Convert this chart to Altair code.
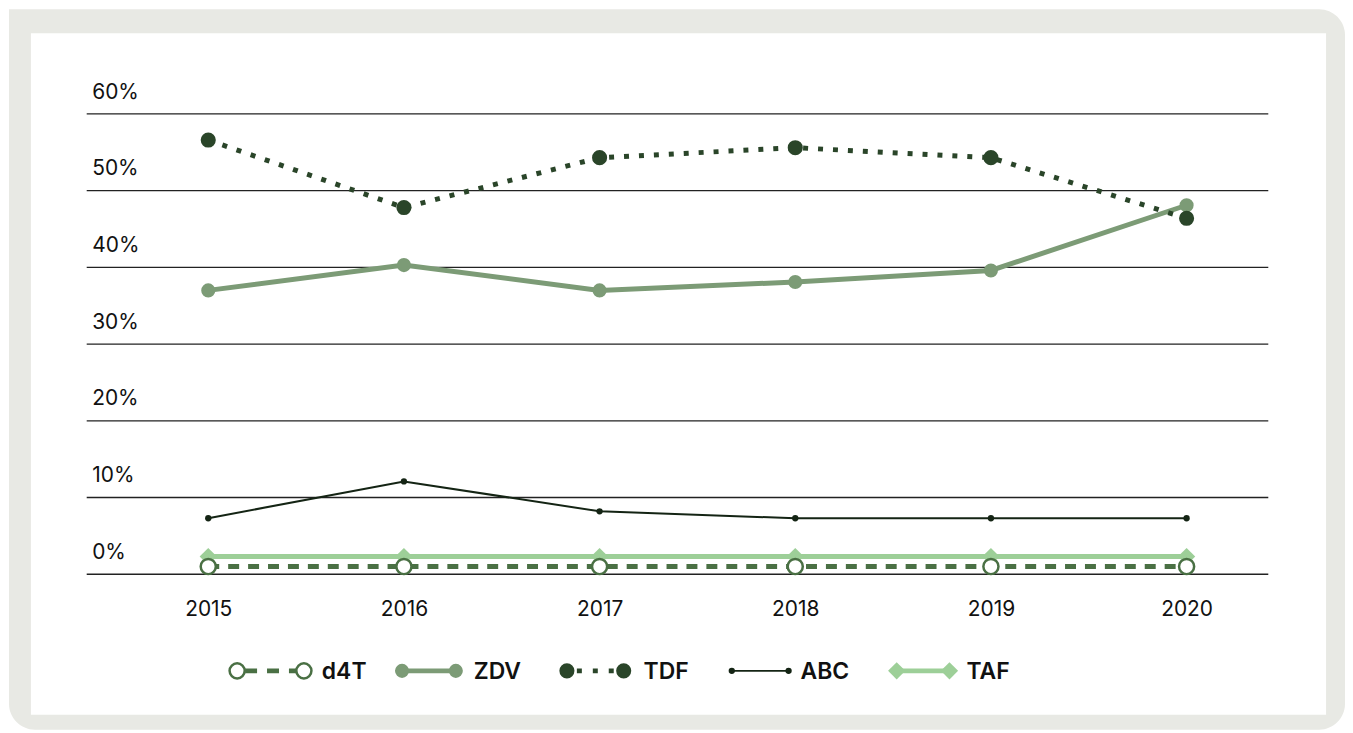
import altair as alt
import pandas as pd

years = ["2015", "2016", "2017", "2018", "2019", "2020"]
series_names = ["d4T", "ZDV", "TDF", "ABC", "TAF"]
d4t = [1.0, 1.0, 1.0, 1.0, 1.0, 1.0]
zdv = [37.0, 40.3, 37.0, 38.1, 39.6, 48.1]
tdf = [56.6, 47.8, 54.3, 55.6, 54.3, 46.4]
abc = [7.3, 12.1, 8.2, 7.3, 7.3, 7.3]
taf = [2.3, 2.3, 2.3, 2.3, 2.3, 2.3]
y_ticks = [0, 10, 20, 30, 40, 50, 60]

values = {"d4T": d4t, "ZDV": zdv, "TDF": tdf, "ABC": abc, "TAF": taf}
rows = []
for s in series_names:
    for yr, v in zip(years, values[s]):
        rows.append({"series": s, "year": yr, "value": v})
df = pd.DataFrame(rows)
legend_df = pd.DataFrame({"series": series_names})
ticks_df = pd.DataFrame({"value": y_ticks})

FONT = "Inter"
W, H = 1186, 462

style = {
    "TAF": dict(color="#9dcf98", width=5, dash=None, shape="diamond", size=300, fill="#9dcf98",
                seg=53, txt=70),
    "d4T": dict(color="#4a7044", width=5, dash=[11, 9], shape="circle", size=230, fill="white",
                seg=67, txt=85),
    "ABC": dict(color="#142414", width=2, dash=None, shape="circle", size=40, fill="#142414",
                seg=57, txt=69),
    "ZDV": dict(color="#7c9b76", width=5, dash=None, shape="circle", size=200, fill="#7c9b76",
                seg=54, txt=72),
    "TDF": dict(color="#2a4529", width=5, dash=[5, 10], shape="circle", size=230, fill="#2a4529",
                seg=57, txt=77),
}
draw_order = ["TAF", "d4T", "ABC", "ZDV", "TDF"]

x_main = alt.X("year:O",
               scale=alt.Scale(type="point", domain=years, range=[122, 1104], padding=0),
               axis=alt.Axis(title=None, domain=False, ticks=False, grid=False,
                             labelAngle=0, labelFont=FONT, labelFontSize=21,
                             labelColor="#111111", labelPadding=24, labelBaseline="top",
                             zindex=1))
y_scale = alt.Scale(domain=[0, 60], nice=False, zero=True)
y_main = alt.Y("value:Q", scale=y_scale,
               axis=alt.Axis(title=None, values=y_ticks, domain=False, ticks=False,
                             grid=False,
                             labelAlign="left", labelBaseline="alphabetic", labelPadding=-5,
                             labelOffset=-16, labelFont=FONT, labelFontSize=21,
                             labelColor="#111111", labelExpr="datum.value + '%'",
                             zindex=1))

grid = alt.Chart(ticks_df).mark_rule(color="#222222", strokeWidth=1.3).encode(y=y_main)

base = alt.Chart(df)
main_layers = [grid]
for s in draw_order:
    st = style[s]
    line_kw = dict(color=st["color"], strokeWidth=st["width"])
    if st["dash"]:
        line_kw["strokeDash"] = st["dash"]
    line = base.transform_filter(alt.datum.series == s).mark_line(**line_kw).encode(
        x=x_main, y=y_main)
    pts = base.transform_filter(alt.datum.series == s).mark_point(
        shape=st["shape"], size=st["size"], filled=True, fill=st["fill"],
        stroke=st["color"], strokeWidth=2.5 if s == "d4T" else 0, opacity=1
    ).encode(x=x_main, y=y_main)
    main_layers += [line, pts]
main = alt.layer(*main_layers)

LEG_Y = 559
x_leg = alt.X("series:N",
              scale=alt.Scale(type="point", domain=series_names, range=[151, 813], padding=0),
              axis=None)
lbase = alt.Chart(legend_df)
leg_layers = []
for s in series_names:
    st = style[s]
    seg = st["seg"]
    rule_kw = dict(color=st["color"], strokeWidth=st["width"] if s != "ABC" else 2, x2Offset=seg)
    if st["dash"]:
        rule_kw["strokeDash"] = [12, 10] if s == "d4T" else [5, 11]
        rule_kw["strokeDashOffset"] = -8 if s == "d4T" else -10
    f = lbase.transform_filter(alt.datum.series == s)
    leg_layers.append(f.mark_rule(**rule_kw).encode(x=x_leg, x2="series:N", y=alt.value(LEG_Y)))
    for off in (0, seg):
        leg_layers.append(f.mark_point(
            shape=st["shape"], size=st["size"] if s != "ABC" else 40, filled=True,
            fill=st["fill"], stroke=st["color"], strokeWidth=2.5 if s == "d4T" else 0,
            opacity=1, xOffset=off).encode(x=x_leg, y=alt.value(LEG_Y)))
    leg_layers.append(f.mark_text(align="left", baseline="middle", xOffset=st["txt"],
                                  font=FONT, fontSize=23, fontWeight=600,
                                  color="#111111").encode(
        x=x_leg, y=alt.value(LEG_Y + 1), text="series:N"))
legend = alt.layer(*leg_layers)

frame_df = pd.DataFrame({"k": [0]})
frame = alt.Chart(frame_df).mark_rect(color="#e8e9e4", cornerRadius=26,
                                      cornerRadiusTopLeft=0).encode(
    x=alt.value(-78), x2=alt.value(1263), y=alt.value(-105), y2=alt.value(618))
panel = alt.Chart(frame_df).mark_rect(color="white").encode(
    x=alt.value(-56), x2=alt.value(1244), y=alt.value(-81), y2=alt.value(603))

chart = alt.layer(frame, panel, main, legend).resolve_scale(x="independent").properties(
    width=W, height=H,
    autosize=alt.AutoSizeParams(type="none"),
    padding={"left": 79, "top": 105, "right": 77, "bottom": 156},
).configure_view(stroke=None).configure(background="white")

chart.save("out.html", embed_options={"renderer": "svg", "actions": False})
